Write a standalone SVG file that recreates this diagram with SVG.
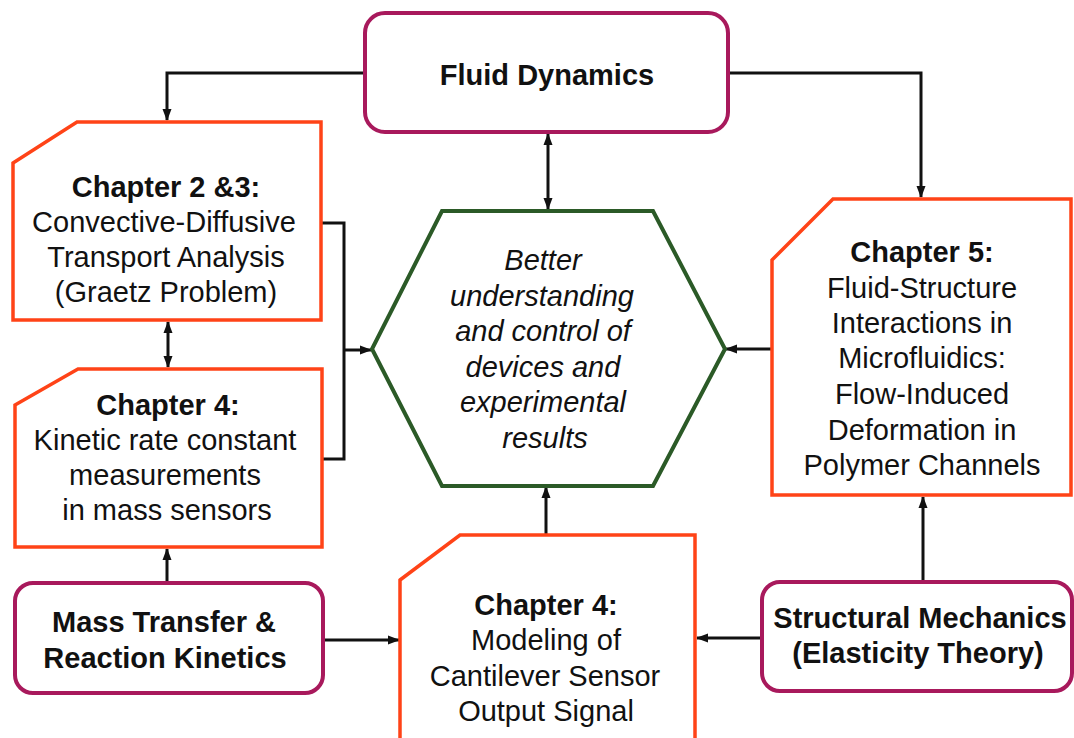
<svg xmlns="http://www.w3.org/2000/svg" width="1074" height="738" viewBox="0 0 1074 738">
<defs>
<marker id="ah" markerWidth="12" markerHeight="10" refX="11" refY="5" orient="auto-start-reverse" markerUnits="userSpaceOnUse">
<path d="M0,0.5 L12,5 L0,9.5 z" fill="#111"/>
</marker>
<style>
.chap{fill:#fff;stroke:#ff4317;stroke-width:3.5;stroke-linejoin:miter}
.topic{fill:#fff;stroke:#a8195c;stroke-width:4}
.hex{fill:#fff;stroke:#2b5a27;stroke-width:4;stroke-linejoin:miter}
.conn{fill:none;stroke:#111;stroke-width:3}
text{font-family:"Liberation Sans",Arial,sans-serif;font-size:29px;fill:#111;text-anchor:middle}
.b{font-weight:bold}
.i{font-style:italic}
</style>
</defs>
<rect width="1074" height="738" fill="#fff"/>

<g id="connectors">
<polyline class="conn" points="365,73 167,73 167,120" marker-end="url(#ah)"/>
<polyline class="conn" points="728,73 921,73 921,197" marker-end="url(#ah)"/>
<line class="conn" x1="548" y1="134" x2="548" y2="209" marker-start="url(#ah)" marker-end="url(#ah)"/>
<line class="conn" x1="168" y1="322" x2="168" y2="367" marker-start="url(#ah)" marker-end="url(#ah)"/>
<polyline class="conn" points="322,223 344,223 344,459 322,459"/>
<line class="conn" x1="344" y1="350" x2="371" y2="350" marker-end="url(#ah)"/>
<line class="conn" x1="772" y1="349" x2="726" y2="349" marker-end="url(#ah)"/>
<line class="conn" x1="167" y1="583" x2="167" y2="549" marker-end="url(#ah)"/>
<line class="conn" x1="323" y1="640" x2="399" y2="640" marker-end="url(#ah)"/>
<line class="conn" x1="762" y1="638" x2="697" y2="638" marker-end="url(#ah)"/>
<line class="conn" x1="546" y1="535" x2="546" y2="487" marker-end="url(#ah)"/>
<line class="conn" x1="923" y1="582" x2="923" y2="497" marker-end="url(#ah)"/>
</g>

<g id="fluid-dynamics">
<rect class="topic" x="365" y="13" width="363" height="119" rx="20"/>
<text class="b" x="547" y="85">Fluid Dynamics</text>
</g>

<g id="chapter-2-3">
<path class="chap" d="M13,163 L77,122 L321,122 L321,320 L13,320 Z"/>
<text class="b" x="166" y="197">Chapter 2 &amp;3:</text>
<text x="164" y="232">Convective-Diffusive</text>
<text x="166" y="267">Transport Analysis</text>
<text x="166" y="302">(Graetz Problem)</text>
</g>

<g id="chapter-4-kinetic">
<path class="chap" d="M15,405 L78,369 L322,369 L322,547 L15,547 Z"/>
<text class="b" x="168" y="415">Chapter 4:</text>
<text x="165" y="450">Kinetic rate constant</text>
<text x="165" y="485">measurements</text>
<text x="167" y="520">in mass sensors</text>
</g>

<g id="goal">
<polygon class="hex" points="442,211 653,211 725,349 653,486 442,486 372,349"/>
<text class="i" x="543" y="270">Better</text>
<text class="i" x="542" y="306">understanding</text>
<text class="i" x="543" y="341">and control of</text>
<text class="i" x="543" y="377">devices and</text>
<text class="i" x="543" y="412">experimental</text>
<text class="i" x="545" y="448">results</text>
</g>

<g id="chapter-5">
<path class="chap" d="M772,260 L833,199 L1071,199 L1071,495 L772,495 Z"/>
<text class="b" x="922" y="262">Chapter 5:</text>
<text x="922" y="298">Fluid-Structure</text>
<text x="922" y="333">Interactions in</text>
<text x="922" y="368">Microfluidics:</text>
<text x="922" y="404">Flow-Induced</text>
<text x="922" y="440">Deformation in</text>
<text x="922" y="475">Polymer Channels</text>
</g>

<g id="mass-transfer">
<rect class="topic" x="15" y="583" width="308" height="110" rx="18"/>
<text class="b" x="164" y="632">Mass Transfer &amp;</text>
<text class="b" x="165" y="668">Reaction Kinetics</text>
</g>

<g id="chapter-4-cantilever">
<path class="chap" d="M400,580 L460,535 L695,535 L695,745 L400,745 Z"/>
<text class="b" x="546" y="615">Chapter 4:</text>
<text x="546" y="650">Modeling of</text>
<text x="545" y="686">Cantilever Sensor</text>
<text x="546" y="721">Output Signal</text>
</g>

<g id="structural-mechanics">
<rect class="topic" x="762" y="582" width="310" height="109" rx="18"/>
<text class="b" x="920" y="628">Structural Mechanics</text>
<text class="b" x="918" y="663">(Elasticity Theory)</text>
</g>
</svg>
